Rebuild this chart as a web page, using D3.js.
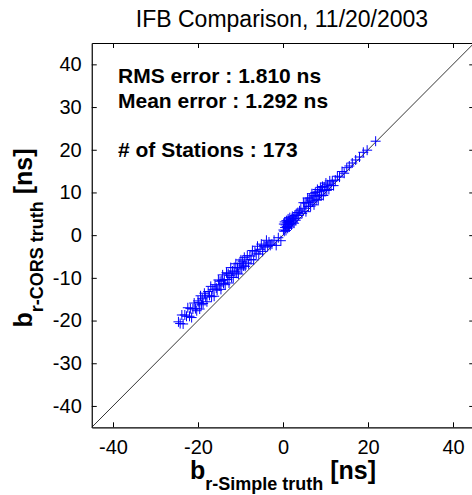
<!DOCTYPE html>
<html>
<head>
<meta charset="utf-8">
<script src="https://cdn.jsdelivr.net/npm/d3@7"></script>
<style>
  body { margin: 0; background: #fff; }
  text { font-family: "Liberation Sans", Arial, sans-serif; }
</style>
</head>
<body>
<div id="main"></div>
<script>
var width = 472,
    height = 495;

// station values [ns]
var simpleTruth = [
  -24.6,-24.2,-23.8,-23.5,-23.1,-22.7,-22.4,-22.0,-21.8,-21.5,-21.2,-20.9,-20.6,-20.3,-20.0,-19.8,-19.6,-19.4,-19.2,-19.0,
  -18.8,-18.5,-18.2,-17.9,-17.6,-17.3,-17.0,-16.8,-16.5,-16.2,-16.0,-15.7,-15.5,-15.2,-15.0,-14.8,-14.6,-14.4,-14.2,-14.0,
  -13.8,-13.6,-13.3,-13.1,-12.9,-12.7,-12.5,-12.3,-12.1,-11.9,-11.7,-11.5,-11.3,-11.1,-10.9,-10.7,-10.5,-10.3,-10.1,-9.9,-9.7,-9.5,-9.3,-9.1,-8.9,
  -8.7,-8.4,-8.1,-7.8,-7.5,-7.2,-6.9,-6.6,-6.3,-6.0,-5.7,-5.4,-5.1,-4.8,-4.5,-4.2,-3.9,-3.6,-3.3,-3.0,
  -2.6,-2.1,-1.6,-1.1,-0.5,
  0.1,0.2,0.3,0.4,0.5,0.6,0.7,0.8,0.9,1.0,1.1,1.2,1.3,1.4,1.5,1.6,1.8,1.9,2.0,2.2,2.3,2.5,2.6,2.8,3.0,3.1,3.3,3.5,3.7,3.9,
  4.2,4.5,4.8,5.0,5.2,5.4,5.6,5.8,6.0,6.1,6.3,6.5,6.6,6.8,7.0,7.1,7.3,7.5,7.6,7.8,8.0,8.1,8.3,8.5,8.6,8.8,9.0,9.1,9.3,9.5,9.7,9.9,10.1,10.3,10.5,10.8,11.0,11.3,11.6,11.9,
  12.3,12.8,13.3,13.9,14.4,15.0,15.6,16.3,17.1,18.0,18.9,19.8,21.8
];
var corsTruth = [
  -20.3,-20.7,-18.7,-20.8,-18.7,-19.0,-17.0,-19.0,-17.2,-19.3,-17.3,-15.9,-17.2,-17.7,-15.4,-15.8,-17.3,-14.2,-16.3,-14.9,
  -16.0,-13.6,-14.5,-15.6,-13.2,-14.1,-12.0,-14.4,-12.7,-14.3,-11.6,-12.4,-12.9,-10.5,-11.9,-10.8,-12.7,-10.6,-9.3,-11.3,
  -10.4,-11.6,-8.8,-10.4,-9.0,-11.2,-9.4,-7.6,-9.9,-8.4,-9.9,-7.6,-8.6,-6.7,-8.9,-7.6,-9.1,-6.6,-7.6,-5.8,-7.9,-6.1,-7.2,-5.2,-7.3,
  -6.5,-4.8,-6.7,-4.9,-5.7,-3.6,-5.8,-3.9,-4.4,-2.6,-4.4,-3.3,-2.1,-3.8,-2.4,-2.8,-1.2,-2.6,-1.6,-2.4,
  -2.1,-1.2,-2.4,-0.6,-1.3,
  1.2,2.6,0.9,3.1,1.8,2.4,1.1,3.4,2.0,2.9,1.6,3.8,2.5,3.2,1.9,4.1,2.8,3.6,2.4,4.4,3.1,3.9,2.8,4.6,3.5,4.9,4.0,5.3,4.6,5.7,
  6.1,5.1,7.6,6.3,7.5,5.5,7.6,8.7,6.7,7.7,8.7,6.8,8.2,9.7,7.8,9.2,7.1,9.2,10.0,8.2,9.2,10.7,8.4,10.3,9.4,11.2,9.2,10.6,11.4,9.3,11.3,10.5,12.2,10.5,11.8,10.7,12.7,11.6,12.7,11.6,
  12.9,13.8,13.6,14.9,14.5,15.8,16.2,16.9,17.6,18.3,19.4,19.9,22.0
];
var xTicks = [-40, -20, 0, 20, 40];
var yTicks = [-40, -30, -20, -10, 0, 10, 20, 30, 40];
var axisRange = [-45, 45];
var infoLines = ["RMS error : 1.810 ns", "Mean error : 1.292 ns", "", "# of Stations : 173"];
var titleText = "IFB Comparison, 11/20/2003";

var x0 = 91.75, x1 = 474.25, y0 = 43, y1 = 427.3;

var x = d3.scaleLinear().domain(axisRange).range([x0, x1]);
var y = d3.scaleLinear().domain(axisRange).range([y1, y0]);

var svg = d3.select("#main").append("svg")
    .attr("width", width)
    .attr("height", height);

// 1:1 line
svg.append("line")
    .attr("x1", x(axisRange[0])).attr("y1", y(axisRange[0]))
    .attr("x2", x(axisRange[1])).attr("y2", y(axisRange[1]))
    .attr("stroke", "#000")
    .attr("stroke-width", 0.8);

// station markers (plus signs)
var pts = simpleTruth.map(function(d, i) { return [d, corsTruth[i]]; });
var m = 5;
svg.append("g").selectAll("path")
    .data(pts)
    .enter()
    .append("path")
    .attr("d", function(d) {
      var px = x(d[0]), py = y(d[1]);
      return "M" + (px - m) + "," + py + "H" + (px + m) + "M" + px + "," + (py - m) + "V" + (py + m);
    })
    .attr("stroke", "#0000ff")
    .attr("stroke-width", 1)
    .attr("fill", "none");

// box axes, ticks pointing in
var fmt = function(d) { return String(d); };
svg.append("g").attr("transform", "translate(0," + y1 + ")")
    .call(d3.axisBottom(x).tickValues(xTicks).tickSizeInner(-5).tickSizeOuter(0).tickPadding(13).tickFormat(fmt));
svg.append("g").attr("transform", "translate(0," + y0 + ")")
    .call(d3.axisTop(x).tickValues(xTicks).tickSizeInner(-5).tickSizeOuter(0).tickFormat(""));
svg.append("g").attr("transform", "translate(" + x0 + ",0)")
    .call(d3.axisLeft(y).tickValues(yTicks).tickSizeInner(-5).tickSizeOuter(0).tickPadding(10).tickFormat(fmt));
svg.append("g").attr("transform", "translate(" + x1 + ",0)")
    .call(d3.axisRight(y).tickValues(yTicks).tickSizeInner(-5).tickSizeOuter(0).tickFormat(""));

svg.selectAll(".domain").attr("stroke", "#000").attr("stroke-width", 1.2);
svg.selectAll(".tick line").attr("stroke", "#000");
svg.selectAll(".tick text")
    .attr("font-family", "Liberation Sans, Arial, sans-serif")
    .attr("font-size", 20)
    .attr("fill", "#000");

// title
svg.append("text")
    .attr("x", 282).attr("y", 27)
    .attr("text-anchor", "middle")
    .attr("font-size", 23)
    .text(titleText);

// statistics text
svg.append("g").selectAll("text")
    .data(infoLines)
    .enter()
    .append("text")
    .attr("x", 118)
    .attr("y", function(d, i) { return 83 + i * 24.7; })
    .attr("font-size", 21)
    .attr("font-weight", "bold")
    .text(function(d) { return d; });

// axis labels with subscripts
function axisLabel(sel, sub) {
  sel.attr("text-anchor", "middle")
     .attr("font-weight", "bold")
     .attr("font-size", 25);
  sel.append("tspan").text("b");
  sel.append("tspan").attr("font-size", 18).attr("dy", 11).text(sub);
  sel.append("tspan").attr("dy", -11).text(" [ns]");
}

svg.append("text")
    .attr("x", 283).attr("y", 479)
    .call(axisLabel, "r-Simple truth");

svg.append("text")
    .attr("transform", "translate(32,238) rotate(-90)")
    .call(axisLabel, "r-CORS truth");
</script>
</body>
</html>
